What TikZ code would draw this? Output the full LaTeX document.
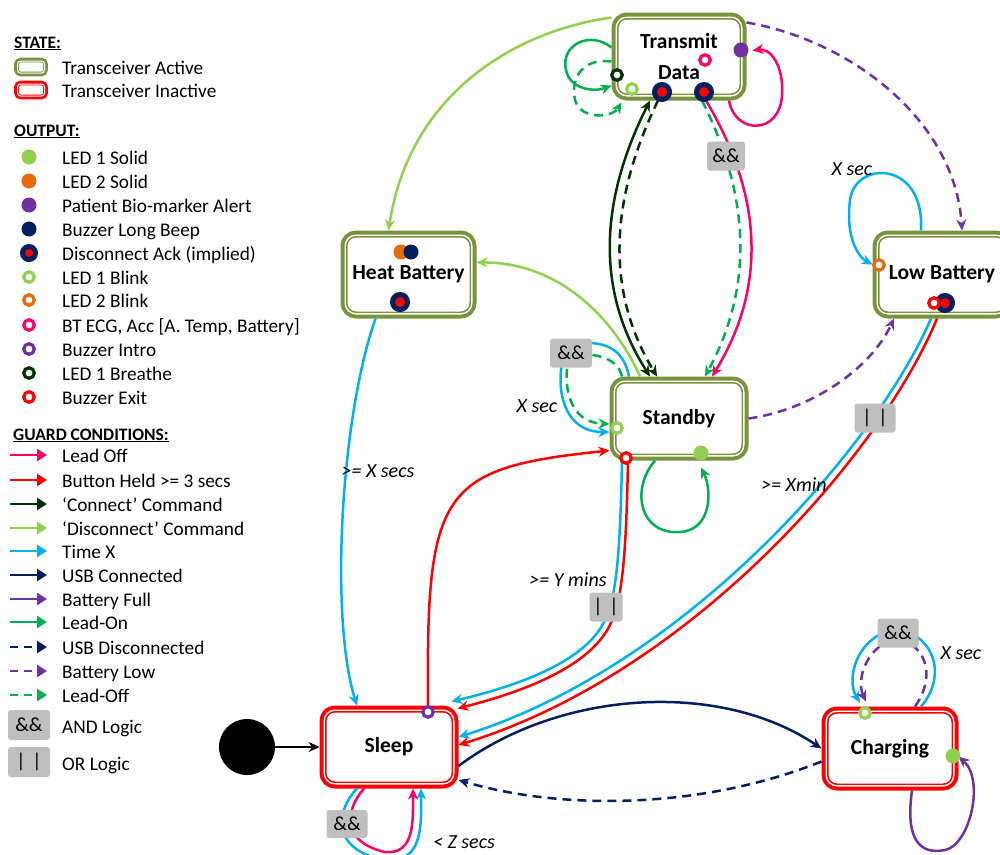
\documentclass[tikz,border=0pt]{standalone}
\usepackage{fontspec}
\setmainfont{Carlito}
\usetikzlibrary{arrows.meta}

\definecolor{cActive}{HTML}{77933C}
\definecolor{cLeadOff}{HTML}{FF0066}
\definecolor{cBtn}{HTML}{FF0000}
\definecolor{cConn}{HTML}{003300}
\definecolor{cDisc}{HTML}{92D050}
\definecolor{cTime}{HTML}{00B0F0}
\definecolor{cUsb}{HTML}{002060}
\definecolor{cBatt}{HTML}{7030A0}
\definecolor{cLeadOn}{HTML}{00B050}
\definecolor{cOrange}{HTML}{E46C0A}
\definecolor{cGray}{HTML}{BFBFBF}

\tikzset{
  active/.style={draw=cActive, line width=7pt,
    rounded corners=12pt, fill=white, inner sep=0pt, align=center,
    font=\fontsize{21.5}{31}\selectfont\bfseries},
  inactive/.style={active, draw=cBtn},
  stateinset/.style={draw=white, line width=1.4pt, rounded corners=10.7pt},
  iconbox/.style={minimum width=29pt, minimum height=14pt, rounded corners=4pt,
    line width=4.6pt, fill=white, inner sep=0pt},
  iconinset/.style={draw=white, line width=1pt, rounded corners=3pt},
  wire/.style={line width=2.5pt},
  tip/.style={-{Stealth[length=11pt,width=10pt]}},
  dashline/.style={dash pattern=on 9pt off 6pt},
  logicbox/.style={fill=cGray, rounded corners=3pt, minimum width=40pt, minimum height=29pt,
    inner sep=0pt, font=\fontsize{20}{22}\selectfont},
  guard/.style={font=\fontsize{20}{22}\selectfont\itshape, inner sep=0pt},
  ledDot/.style={circle, fill=#1, minimum size=15pt, inner sep=0pt},
  ledRing/.style={circle, draw=#1, fill=white, line width=3.2pt, minimum size=10.5pt, inner sep=0pt},
  ackDot/.style={circle, draw=cUsb, fill=red, line width=5pt, minimum size=15pt, inner sep=0pt},
  legtxt/.style={anchor=base west, inner sep=0pt, font=\fontsize{19.3}{22}\selectfont},
  leghdr/.style={anchor=base west, inner sep=0pt, font=\fontsize{17.5}{20}\selectfont\bfseries},
  legarrow/.style={line width=2.8pt, -{Triangle[length=10pt,width=12pt]}},
  legdash/.style={legarrow, dash pattern=on 8pt off 6pt},
}

\begin{document}
\begin{tikzpicture}[x=1pt,y=-1pt]
\fill[white] (0,0) rectangle (1000,854);
\useasboundingbox (0,0) rectangle (1000,854);

% ---------------- legend ----------------
\node[leghdr] (hState) at (14,48) {\underline{STATE:}};
\node[iconbox, draw=cActive] (kAct) at (31,67) {};
\node[legtxt] (tAct) at (62,74) {Transceiver Active};
\node[iconbox, draw=cBtn] (kInact) at (31,90) {};
\node[legtxt] (tInact) at (62,97) {Transceiver Inactive};
\foreach \k in {kAct,kInact}
  \draw[iconinset] ([xshift=3.3pt,yshift=-3.3pt]\k.north west) rectangle ([xshift=-3.3pt,yshift=3.3pt]\k.south east);

\node[leghdr] (hOut) at (14,136) {\underline{OUTPUT:}};
\node[ledDot=cDisc] (k1) at (29,157) {};
\node[legtxt] (t1) at (62,164) {LED 1 Solid};
\node[ledDot=cOrange] (k2) at (29,181) {};
\node[legtxt] (t2) at (62,188) {LED 2 Solid};
\node[ledDot=cBatt] (k3) at (29,205) {};
\node[legtxt] (t3) at (62,212) {Patient Bio-marker Alert};
\node[ledDot=cUsb] (k4) at (29,229) {};
\node[legtxt] (t4) at (62,236) {Buzzer Long Beep};
\node[ackDot, minimum size=13pt] (k5) at (29,253) {};
\node[legtxt] (t5) at (62,260) {Disconnect Ack (implied)};
\node[ledRing=cDisc] (k6) at (29,277) {};
\node[legtxt] (t6) at (62,284) {LED 1 Blink};
\node[ledRing=cOrange] (k7) at (29,300) {};
\node[legtxt] (t7) at (62,307) {LED 2 Blink};
\node[ledRing=cLeadOff] (k8) at (29,325) {};
\node[legtxt] (t8) at (62,332) {BT ECG, Acc [A. Temp, Battery]};
\node[ledRing=cBatt] (k9) at (29,349) {};
\node[legtxt] (t9) at (62,356) {Buzzer Intro};
\node[ledRing=cConn] (k10) at (29,373) {};
\node[legtxt] (t10) at (62,380) {LED 1 Breathe};
\node[ledRing=cBtn] (k11) at (29,397) {};
\node[legtxt] (t11) at (62,404) {Buzzer Exit};

\node[leghdr] (hGuard) at (13,440) {\underline{GUARD CONDITIONS:}};
\draw[legarrow, draw=cLeadOff, fill=cLeadOff] (10,455) -- (47,455);
\node[legtxt] (g1) at (62,462) {Lead Off};
\draw[legarrow, draw=cBtn] (10,480) -- (47,480);
\node[legtxt] (g2) at (62,487) {Button Held >= 3 secs};
\draw[legarrow, draw=cConn] (10,504) -- (47,504);
\node[legtxt] (g3) at (62,511) {‘Connect’ Command};
\draw[legarrow, draw=cDisc] (10,528) -- (47,528);
\node[legtxt] (g4) at (62,535) {‘Disconnect’ Command};
\draw[legarrow, draw=cTime] (10,551) -- (47,551);
\node[legtxt] (g5) at (62,558) {Time X};
\draw[legarrow, draw=cUsb] (10,575) -- (47,575);
\node[legtxt] (g6) at (62,582) {USB Connected};
\draw[legarrow, draw=cBatt] (10,599) -- (47,599);
\node[legtxt] (g7) at (62,606) {Battery Full};
\draw[legarrow, draw=cLeadOn] (10,622) -- (47,622);
\node[legtxt] (g8) at (62,629) {Lead-On};
\draw[legdash, draw=cUsb] (10,647) -- (47,647);
\node[legtxt] (g9) at (62,654) {USB Disconnected};
\draw[legdash, draw=cBatt] (10,671) -- (47,671);
\node[legtxt] (g10) at (62,678) {Battery Low};
\draw[legdash, draw=cLeadOn] (10,695) -- (47,695);
\node[legtxt] (g11) at (62,702) {Lead-Off};
\node[logicbox, minimum width=42pt, minimum height=30pt] (kAnd) at (29,725) {\&\&};
\node[legtxt] (tAnd) at (62,733) {AND Logic};
\node[logicbox, minimum width=42pt, minimum height=30pt] (kOr) at (29,762) {|\,\,|};
\node[legtxt] (tOr) at (62,770) {OR Logic};

% ---------------- states ----------------
\node[active, minimum width=128pt, minimum height=81pt] (td) at (679,56.5) {Transmit\\Data};
\node[active, minimum width=129pt, minimum height=81pt] (hb) at (408.5,274.5) {Heat Battery};
\node[active, minimum width=132pt, minimum height=77pt] (sb) at (679,418.5) {Standby};
\node[active, minimum width=132pt, minimum height=81pt] (lb) at (942,274.5) {Low Battery};
\node[inactive, minimum width=132pt, minimum height=76pt] (sl) at (389,747) {Sleep};
\node[inactive, minimum width=130pt, minimum height=77pt] (ch) at (890,748.5) {Charging};
\node[circle, fill=black, minimum size=56pt, inner sep=0pt] (init) at (247,747) {};
% thin white gap inside each state outline
\foreach \s in {td,hb,sb,lb,sl,ch}
  \draw[stateinset] ([xshift=4.7pt,yshift=-4.7pt]\s.north west) rectangle ([xshift=-4.7pt,yshift=4.7pt]\s.south east);

% ---------------- transitions ----------------
% initial
\draw[wire, tip] (init) -- (sl.west);

% 'Disconnect' command
\draw[wire, draw=cDisc, tip] (td.150) .. controls (520,30) and (410,90) .. ([xshift=-20pt]hb.north);
\draw[wire, draw=cDisc, tip] ([xshift=-39pt]sb.north) .. controls (615,320) and (560,262) .. ([yshift=12pt]hb.east);

% heat battery -> sleep
\draw[wire, draw=cTime, tip] ([xshift=-33pt]hb.south) .. controls (340,420) and (330,620) .. ([xshift=-32pt]sl.north);

% sleep -> standby (button)
\draw[wire, draw=cBtn, tip] ([xshift=39pt]sl.north) .. controls (426,490) and (440,468) .. ([yshift=-32pt]sb.west);

% standby -> sleep (time || button)
\draw[wire, draw=cTime, tip] ([xshift=-57pt]sb.south) .. controls (620,560) and (616,598) .. (604,622)
   .. controls (585,660) and (525,684) .. ([xshift=-7pt,yshift=4pt]sl.north east);
\draw[wire, draw=cBtn, tip] ([xshift=-51pt]sb.south) .. controls (626,560) and (622,600) .. (610,625)
   .. controls (590,665) and (530,690) .. ([xshift=-1pt,yshift=-3pt]sl.north east);

% low battery -> sleep
\draw[wire, draw=cTime, tip] ([xshift=-11pt]lb.south) .. controls (876,446) and (686,666) .. ([yshift=10pt]sl.east);
\draw[wire, draw=cBtn, tip] ([xshift=-5pt]lb.south) .. controls (882,452) and (692,673) .. ([yshift=2pt]sl.east);

% USB connected / disconnected
\draw[wire, draw=cUsb, tip] ([yshift=-19pt]sl.east) .. controls (560,690) and (720,680) .. (ch.west);
\draw[wire, draw=cUsb, dashline, tip] ([yshift=-13pt]ch.west) .. controls (700,810) and (560,810) .. ([yshift=-33pt]sl.east);

% charging self loops
\draw[wire, draw=cTime, tip] ([xshift=31pt]ch.north) .. controls (944,680) and (940,640) .. (898,628)
   .. controls (855,636) and (846,680) .. ([xshift=-30pt,yshift=4pt]ch.north);
\draw[wire, draw=cBatt, dashline, tip] ([xshift=25pt]ch.north) .. controls (934,680) and (930,648) .. (898,638)
   .. controls (866,645) and (856,680) .. ([xshift=-24pt,yshift=5pt]ch.north);
\draw[wire, draw=cBatt, tip] ([xshift=22pt]ch.south) .. controls (905,840) and (920,855) .. (945,850)
   .. controls (970,845) and (985,780) .. ([yshift=-8pt]ch.east);

% sleep self loop
\draw[wire, draw=cTime, tip] ([xshift=-32pt]sl.south) .. controls (336,810) and (330,850) .. (385,860)
   .. controls (425,864) and (421,820) .. ([xshift=32pt]sl.south);
\draw[wire, draw=cLeadOff, tip] ([xshift=-25pt]sl.south) .. controls (345,810) and (341,842) .. (385,852)
   .. controls (415,855) and (413,820) .. ([xshift=24pt]sl.south);

% standby self loops
\draw[wire, draw=cLeadOn, tip] ([xshift=-24pt]sb.south) .. controls (630,490) and (640,535) .. (680,532)
   .. controls (712,530) and (712,490) .. ([xshift=22pt,yshift=-7pt]sb.south);
\draw[wire, draw=cTime, tip] ([xshift=-50pt]sb.north) .. controls (624,350) and (605,338) .. (571,345)
   .. controls (556,355) and (550,432) .. ([yshift=-13.5pt]sb.west);
\draw[wire, draw=cLeadOn, dashline, tip] ([xshift=-57pt]sb.north) .. controls (618,360) and (600,352) .. (571,355)
   .. controls (564,365) and (560,422) .. ([yshift=-5.5pt]sb.west);

% 'Connect' command
\draw[wire, draw=cConn, {Stealth[length=11pt,width=10pt]}-{Stealth[length=11pt,width=10pt]}]
   ([xshift=-29pt]td.south) .. controls (600,200) and (595,290) .. ([xshift=-29pt]sb.north);
\draw[wire, draw=cConn, dashline, tip]
   ([xshift=-21pt]td.south) .. controls (610,200) and (605,290) .. ([xshift=-22pt]sb.north);

% lead off (transmit -> standby)
\draw[wire, draw=cLeadOn, dashline, tip] ([xshift=23pt]td.south) .. controls (752,200) and (752,290) .. ([xshift=26pt]sb.north);
\draw[wire, draw=cLeadOff, tip] ([xshift=27pt]td.south) .. controls (765,200) and (765,290) .. ([xshift=33pt]sb.north);

% transmit self loops
\draw[wire, draw=cLeadOff, tip] ([xshift=50pt]td.south) .. controls (735,135) and (780,135) .. (782,95)
   .. controls (784,65) and (770,48) .. ([xshift=6pt,yshift=6pt]td.east);
\draw[wire, draw=cLeadOn, tip] ([yshift=9pt]td.west) .. controls (590,30) and (560,45) .. (566,70)
   .. controls (570,90) and (595,92) .. ([yshift=-29pt]td.west);
\draw[wire, draw=cLeadOn, dashline, tip] ([yshift=-5pt]td.west) .. controls (585,58) and (570,75) .. (575,100)
   .. controls (580,120) and (612,118) .. ([xshift=10pt,yshift=-2pt]td.south west);

% battery low
\draw[wire, draw=cBatt, dashline, tip] ([yshift=34pt]td.east) .. controls (850,40) and (955,120) .. ([xshift=20pt]lb.north);
\draw[wire, draw=cBatt, dashline, tip] (sb.east) .. controls (810,410) and (870,370) .. ([xshift=-48pt]lb.south);

% low battery self loop
\draw[wire, draw=cTime, tip] ([xshift=-21pt]lb.north) .. controls (925,160) and (855,160) .. (850,200)
   .. controls (845,240) and (860,258) .. ([yshift=10pt]lb.west);

% ---------------- logic boxes ----------------
\node[logicbox, minimum width=38pt] (andTS) at (726,156) {\&\&};
\node[logicbox, minimum width=42pt] (andSB) at (571,353) {\&\&};
\node[logicbox, minimum width=33pt] (orSB) at (606,607) {|\,\,|};
\node[logicbox, minimum width=41pt] (orLB) at (875,418) {|\,\,|};
\node[logicbox, minimum width=41pt] (andCH) at (898,633) {\&\&};
\node[logicbox, minimum width=41pt, minimum height=28pt] (andSL) at (347,824) {\&\&};

% ---------------- guard labels ----------------
\node[guard] (lblHB) at (378,471) {>= X secs};
\node[guard] (lblSB) at (568,580) {>= Y mins};
\node[guard] (lblLB) at (794,485) {>= Xmin};
\node[guard] (lblSBx) at (537,406) {X sec};
\node[guard] (lblLBx) at (852,169) {X sec};
\node[guard] (lblCHx) at (961,653) {X sec};
\node[guard] (lblSL) at (464,842) {< Z secs};

% ---------------- outputs on states ----------------
\node[ledRing=cLeadOff] (tdBT) at (705,60) {};
\node[ledDot=cBatt] (tdAlert) at (741,50) {};
\node[ledRing=cConn] (tdBreathe) at (617,75) {};
\node[ledRing=cDisc] (tdBlink) at (632,89) {};
\node[ackDot] (tdAckA) at (662,92) {};
\node[ackDot] (tdAckB) at (704,92) {};

\node[ledDot=cOrange] (hbLed2) at (401,252) {};
\node[ledDot=cUsb] (hbBeep) at (411,252) {};
\node[ackDot] (hbAck) at (400,302) {};

\node[ledRing=cDisc] (sbBlink) at (617,428) {};
\node[ledRing=cBtn] (sbExit) at (626,458) {};
\node[ledDot=cDisc] (sbLed1) at (701,453) {};

\node[ledRing=cOrange] (lbBlink) at (879,265) {};
\node[ackDot] (lbAck) at (945,303) {};
\node[ledRing=cBtn] (lbExit) at (934,303) {};

\node[ledRing=cBatt] (slIntro) at (428,712) {};

\node[ledRing=cDisc] (chBlink) at (865,713) {};
\node[ledDot=cDisc] (chLed1) at (953,756) {};
\end{tikzpicture}
\end{document}
